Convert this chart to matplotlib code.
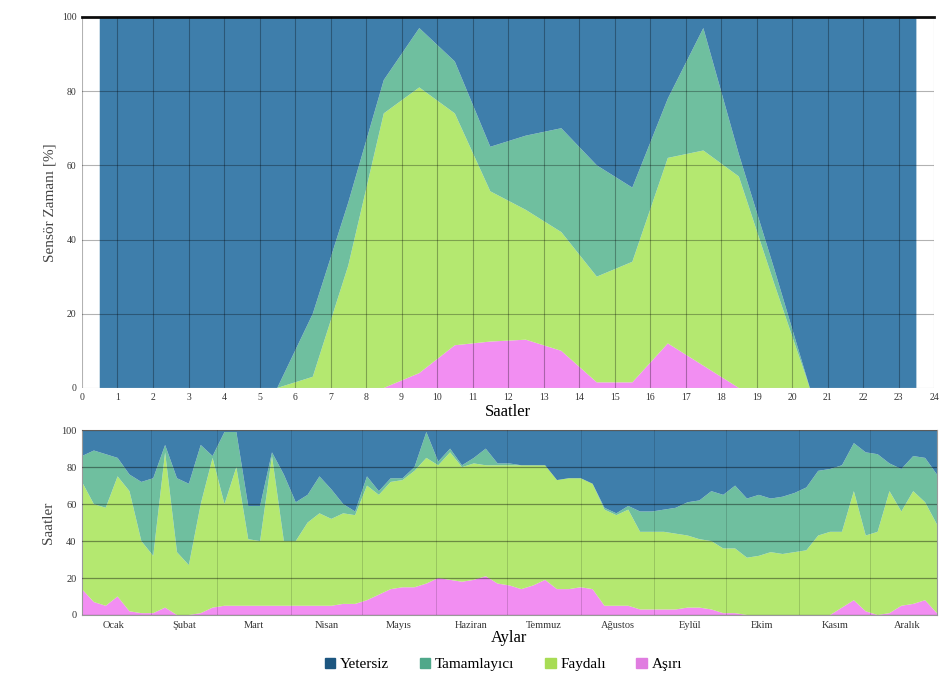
import numpy as np
import matplotlib.pyplot as plt
from matplotlib.patches import Patch

plt.rcParams['font.family'] = ['Liberation Serif', 'DejaVu Serif']

# ---- data: hourly profile (top) ----
hours = [0.5, 1.5, 2.5, 3.5, 4.5, 5.5, 6.5, 7.5, 8.5, 9.5, 10.5, 11.5,
         12.5, 13.5, 14.5, 15.5, 16.5, 17.5, 18.5, 19.5, 20.5, 21.5, 22.5, 23.5]
hour_asiri = [0, 0, 0, 0, 0, 0, 0, 0, 0, 4, 11.5, 12.5,
              13, 10, 1.5, 1.5, 12, 6, 0, 0, 0, 0, 0, 0]
hour_faydali = [0, 0, 0, 0, 0, 0, 3, 33, 74, 77, 62.5, 40.5,
                35, 32, 28.5, 32.5, 50, 58, 57, 28, 0, 0, 0, 0]
hour_tamam = [0, 0, 0, 0, 0, 0, 17, 17, 9, 16, 14, 12,
              20, 28, 30, 20, 16, 33, 6, 4, 0, 0, 0, 0]
hour_yetersiz = [100, 100, 100, 100, 100, 100, 80, 50, 17, 3, 12, 35,
                 32, 30, 40, 46, 22, 3, 37, 68, 100, 100, 100, 100]

# ---- data: daily profile (bottom), 5-day bins ----
days = np.arange(2, 365, 5)
day_asiri = [14, 7, 5, 10, 2, 1, 1, 4, 0, 0, 1, 4, 5, 5, 5, 5, 5, 5, 5,
             5, 5, 5, 6, 6, 8, 11, 14, 15, 15, 17, 20, 19, 18, 19, 21, 17, 16,
             14, 16, 19, 14, 14, 15, 14, 5, 5, 5, 3, 3, 3, 3, 4, 4, 3, 1,
             1, 0, 0, 0, 0, 0, 0, 0, 0, 4, 8, 2, 0, 1, 5, 6, 8, 1]
day_faydali = [58, 53, 53, 65, 65, 39, 31, 84, 34, 27, 59, 81, 55, 75, 36, 35, 81, 35, 35,
               45, 50, 47, 49, 48, 62, 54, 58, 58, 63, 68, 61, 69, 62, 63, 60, 64, 65,
               67, 65, 62, 59, 60, 59, 57, 52, 49, 52, 42, 42, 42, 41, 39, 37, 37, 35,
               35, 31, 32, 34, 33, 34, 35, 43, 45, 41, 59, 41, 45, 66, 51, 61, 53, 48]
day_tamam = [14, 29, 29, 10, 9, 32, 42, 4, 40, 44, 32, 1, 39, 19, 18, 19, 2, 36, 21,
             15, 20, 16, 5, 2, 5, 2, 2, 1, 2, 14, 2, 2, 1, 3, 9, 1, 1,
             0, 0, 0, 0, 0, 0, 0, 1, 1, 2, 11, 11, 12, 14, 18, 21, 27, 29,
             34, 32, 33, 29, 31, 32, 34, 35, 34, 36, 26, 45, 42, 15, 23, 19, 24, 27]
day_yetersiz = [14, 11, 13, 15, 24, 28, 26, 8, 26, 29, 8, 14, 1, 1, 41, 41, 12, 24, 39,
                35, 25, 32, 40, 44, 25, 33, 26, 26, 20, 1, 17, 10, 19, 15, 10, 18, 18,
                19, 19, 19, 27, 26, 26, 29, 42, 45, 41, 44, 44, 43, 42, 39, 38, 33, 35,
                30, 37, 35, 37, 36, 34, 31, 22, 21, 19, 7, 12, 13, 18, 21, 14, 15, 24]

months = ['Ocak', 'Şubat', 'Mart', 'Nisan', 'Mayıs', 'Haziran',
          'Temmuz', 'Ağustos', 'Eylül', 'Ekim', 'Kasım', 'Aralık']
month_len = [31, 28, 31, 30, 31, 30, 31, 31, 30, 31, 30, 31]

labels = ['Aşırı', 'Faydalı', 'Tamamlayıcı', 'Yetersiz']
colors = ['#f28ef2', '#b4e870', '#6fbf9f', '#3e7eab']
legend_colors = ['#1d5680', '#4fa88a', '#a8dc55', '#e07de0']

fig = plt.figure(figsize=(9.5, 6.77), dpi=100)

# ---- top chart ----
ax1 = fig.add_axes([0.0863, 0.427, 0.897, 0.548])
ax1.stackplot(hours, hour_asiri, hour_faydali, hour_tamam, hour_yetersiz,
              colors=colors, linewidth=0)
ax1.set_xlim(0, 24)
ax1.set_ylim(0, 100)
ax1.set_xticks(range(0, 25))
ax1.set_yticks(range(0, 101, 20))
ax1.tick_params(labelsize=7, length=0, pad=4, colors='#333333')
ax1.set_axisbelow(False)
ax1.grid(True, color='black', alpha=0.3, lw=0.8)
for s in ['left', 'right', 'bottom']:
    ax1.spines[s].set_visible(False)
ax1.spines['top'].set_linewidth(2)
ax1.spines['top'].set_color('#111111')
ax1.set_xlabel('Saatler', fontsize=12, labelpad=1)
ax1.set_ylabel('Sensör Zamanı [%]', fontsize=11, color='#444444')

# ---- bottom chart ----
ax2 = fig.add_axes([0.0863, 0.0916, 0.9, 0.273])
ax2.stackplot(days, day_asiri, day_faydali, day_tamam, day_yetersiz,
              colors=colors, linewidth=0)
starts = np.concatenate([[0], np.cumsum(month_len)[:-1]])
mids = starts + np.array(month_len) / 2
ax2.set_xlim(days[0], days[-1])
ax2.set_ylim(0, 100)
ax2.set_xticks(mids)
ax2.set_xticklabels(months)
ax2.set_xticks(starts[1:], minor=True)
ax2.set_yticks(range(0, 101, 20))
ax2.tick_params(which='both', labelsize=7.5, length=0, pad=4, colors='#333333')
ax2.set_axisbelow(False)
ax2.grid(True, axis='y', color='black', alpha=0.4, lw=0.9)
ax2.grid(True, axis='x', which='minor', color='black', alpha=0.15, lw=0.7)
for s in ax2.spines.values():
    s.set_color('#999999')
    s.set_linewidth(0.8)
ax2.set_xlabel('Aylar', fontsize=12, labelpad=0)
ax2.set_ylabel('Saatler', fontsize=11, color='#444444')

handles = [Patch(color=c) for c in legend_colors]
fig.legend(handles, ['Yetersiz', 'Tamamlayıcı', 'Faydalı', 'Aşırı'],
           loc='lower center', bbox_to_anchor=(0.53, -0.012), ncol=4,
           frameon=False, fontsize=11, handlelength=0.7, handleheight=0.7,
           handletextpad=0.3, columnspacing=2.0)

fig.savefig('out.png', dpi=100)
